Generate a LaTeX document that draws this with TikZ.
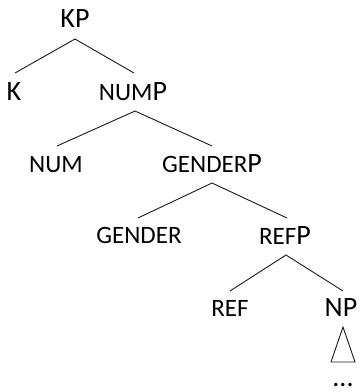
\documentclass[tikz,border=0pt]{standalone}
\usepackage{fontspec}
\setmainfont{Carlito}
\begin{document}
\begin{tikzpicture}[x=1pt,y=-1pt,
  big/.style={anchor=base,inner sep=0pt,font=\fontsize{28}{30}\selectfont},
  edge/.style={line width=0.9pt,black!90}]
\newcommand{\sm}[1]{{\fontsize{25}{27}\selectfont #1}}
\useasboundingbox (0,0) rectangle (362,392);
\node[big] (kp) at (75,27) {KP};
\node[big] (k) at (14,100) {K};
\node[big] (nump) at (133,100) {\sm{NUM}P};
\node[big] (num) at (56,172) {\sm{NUM}};
\node[big] (genderp) at (212,172) {\sm{GENDER}P};
\node[big] (gender) at (139,243) {\sm{GENDER}};
\node[big] (refp) at (285,244) {\sm{REF}P};
\node[big] (ref) at (230,316) {\sm{REF}};
\node[big] (np) at (341,316) {NP};
\node[big] (dots) at (343,386) {...};
\coordinate (a1) at (75,39);
\coordinate (a2) at (135,111);
\coordinate (a3) at (212,183);
\coordinate (a4) at (286,255);
\coordinate (l1) at (15,73); \coordinate (r1) at (134,73);
\coordinate (l2) at (57,146); \coordinate (r2) at (212,146);
\coordinate (l3) at (138,218); \coordinate (r3) at (287,218);
\coordinate (l4) at (230,291); \coordinate (r4) at (343,291);
\coordinate (t1) at (343,327); \coordinate (t2) at (331,362); \coordinate (t3) at (355,362);
\draw[edge] (l1) -- (a1) -- (r1);
\draw[edge] (l2) -- (a2) -- (r2);
\draw[edge] (l3) -- (a3) -- (r3);
\draw[edge] (l4) -- (a4) -- (r4);
\draw[edge,line join=miter] (t1) -- (t2) -- (t3) -- cycle;
\end{tikzpicture}
\end{document}
